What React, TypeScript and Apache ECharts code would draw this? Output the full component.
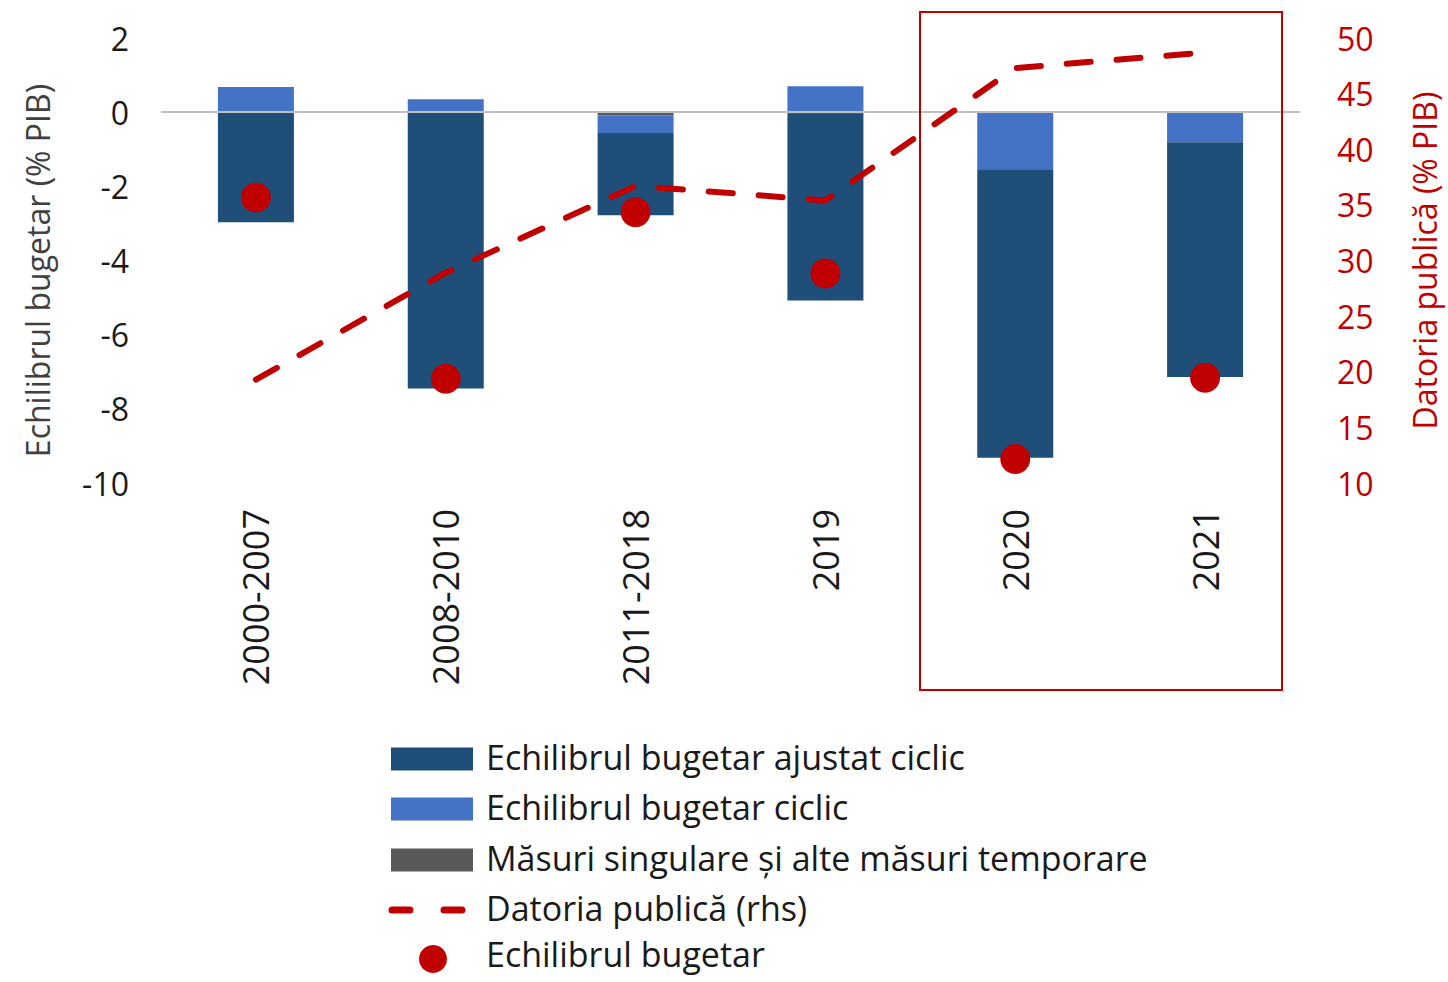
import React, { useEffect, useRef } from "react";
import * as echarts from "echarts";

const categories = ["2000-2007", "2008-2010", "2011-2018", "2019", "2020", "2021"];
const adjustedBalance = [-2.97, -7.45, -2.22, -5.03, -7.78, -6.33];
const cyclicalBalance = [0.68, 0.35, -0.48, 0.7, -1.54, -0.81];
const oneOffMeasures = [0, 0, -0.08, -0.05, 0, 0];
const budgetBalance = [-2.3, -7.19, -2.7, -4.35, -9.35, -7.16];
const publicDebt = [19.3, 28.9, 36.7, 35.4, 47.3, 48.7];

const leftTicks = { min: -10, max: 2, interval: 2 };
const rightTicks = { min: 10, max: 50, interval: 5 };

const seriesNames = {
  adjusted: "Echilibrul bugetar ajustat ciclic",
  cyclic: "Echilibrul bugetar ciclic",
  oneOff: "Măsuri singulare și alte măsuri temporare",
  debt: "Datoria publică (rhs)",
  balance: "Echilibrul bugetar",
};

const FONT = "'Open Sans', sans-serif";
const RED = "#C00000";
const DARK = "#1F4E79";
const LIGHT = "#4472C4";
const GRAY = "#595959";

function legendGraphic() {
  const iconX = 391;
  const iconW = 82;
  const textX = 486;
  const rows = [759, 809, 860, 910, 959];
  const textRows = [757, 807, 858, 908, 954];
  const items: any[] = [];
  const rects = [
    { name: seriesNames.adjusted, color: DARK },
    { name: seriesNames.cyclic, color: LIGHT },
    { name: seriesNames.oneOff, color: GRAY },
  ];
  rects.forEach((r, i) => {
    items.push({
      type: "rect",
      shape: { x: iconX, y: rows[i] - 11.5, width: iconW, height: 23 },
      style: { fill: r.color },
    });
  });
  items.push({
    type: "line",
    shape: { x1: 392, y1: rows[3], x2: 472, y2: rows[3] },
    style: { stroke: RED, lineWidth: 7, lineDash: [18, 34], lineDashOffset: 0, lineCap: "round" },
  });
  items.push({
    type: "circle",
    shape: { cx: 433, cy: rows[4], r: 14 },
    style: { fill: RED },
  });
  const names = [seriesNames.adjusted, seriesNames.cyclic, seriesNames.oneOff, seriesNames.debt, seriesNames.balance];
  names.forEach((n, i) => {
    items.push({
      type: "text",
      x: textX,
      y: textRows[i],
      style: {
        text: n,
        fontSize: 34,
        lineHeight: 36,
        fontFamily: FONT,
        fill: "#1a1a1a",
        verticalAlign: "middle",
        align: "left",
      },
    });
  });
  return items;
}

export default function App() {
  const ref = useRef<HTMLDivElement>(null);
  useEffect(() => {
    if (!ref.current) return;
    const chart = echarts.init(ref.current, null, { renderer: "svg" });
    chart.setOption({
      animation: false,
      textStyle: { fontFamily: FONT },
      grid: { left: 161, right: 144, top: 38, bottom: 499, containLabel: false },
      xAxis: {
        type: "category",
        data: categories,
        axisLine: { show: false },
        axisTick: { show: false },
        axisLabel: { rotate: 90, fontSize: 36, color: "#1a1a1a", margin: 26, fontFamily: FONT },
      },
      yAxis: [
        {
          type: "value",
          ...leftTicks,
          splitLine: { show: false },
          axisLine: { show: false },
          axisTick: { show: false },
          axisLabel: { fontSize: 32, color: "#1a1a1a", margin: 32, fontFamily: FONT },
          name: "Echilibrul bugetar (% PIB)",
          nameLocation: "middle",
          nameGap: 108,
          nameTextStyle: { fontSize: 32, color: "#404040", fontFamily: FONT, padding: [0, 20, 0, 0] },
        },
        {
          type: "value",
          ...rightTicks,
          splitLine: { show: false },
          axisLine: { show: false },
          axisTick: { show: false },
          axisLabel: { fontSize: 32, color: RED, margin: 37, fontFamily: FONT },
          name: "Datoria publică (% PIB)",
          nameLocation: "middle",
          nameGap: 108,
          nameRotate: 90,
          nameTextStyle: { fontSize: 32, color: RED, fontFamily: FONT },
        },
      ],
      graphic: [
        {
          type: "rect",
          shape: { x: 920, y: 12, width: 362, height: 678 },
          style: { fill: "none", stroke: RED, lineWidth: 2 },
          z: 100,
        },
        ...legendGraphic(),
      ],
      series: [
        {
          name: seriesNames.oneOff,
          type: "bar",
          stack: "a",
          barWidth: 76,
          data: oneOffMeasures,
          itemStyle: { color: GRAY },
          markLine: {
            silent: true,
            symbol: "none",
            label: { show: false },
            lineStyle: { color: "#BFBFBF", width: 2, type: "solid" },
            data: [{ yAxis: 0 }],
          },
        },
        {
          name: seriesNames.cyclic,
          type: "bar",
          stack: "a",
          barWidth: 76,
          data: cyclicalBalance,
          itemStyle: { color: LIGHT },
        },
        {
          name: seriesNames.adjusted,
          type: "bar",
          stack: "a",
          barWidth: 76,
          data: adjustedBalance,
          itemStyle: { color: DARK },
        },
        {
          name: seriesNames.debt,
          type: "line",
          yAxisIndex: 1,
          data: publicDebt,
          symbol: "none",
          lineStyle: { color: RED, width: 6, type: [24, 26], cap: "round" },
          itemStyle: { color: RED },
          z: 5,
        },
        {
          name: seriesNames.balance,
          type: "scatter",
          yAxisIndex: 0,
          data: budgetBalance,
          symbolSize: 30,
          itemStyle: { color: RED, opacity: 1 },
          z: 6,
        },
      ],
    });
    return () => chart.dispose();
  }, []);
  return (
    <div
      ref={ref}
      style={{ position: "fixed", left: 0, top: 0, width: 1448, height: 982, background: "#fff" }}
    />
  );
}
